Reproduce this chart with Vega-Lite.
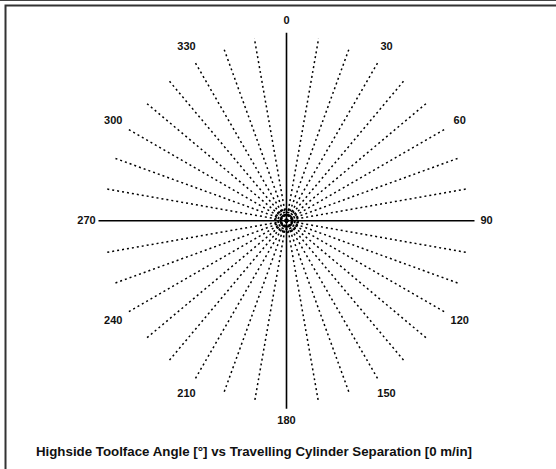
{
  "$schema": "https://vega.github.io/schema/vega-lite/v6.json",
  "width": 556,
  "height": 469,
  "padding": 0,
  "autosize": {"type": "none"},
  "background": "white",
  "view": {"stroke": null},
  "config": {"font": "Liberation Sans"},
  "datasets": {
    "spokes": [
      {"angle": 10, "x0": 0, "y0": 0, "x": 0.1709, "y": 0.9691}, {"angle": 20, "x0": 0, "y0": 0, "x": 0.3366, "y": 0.9247},
      {"angle": 30, "x0": 0, "y0": 0, "x": 0.4920, "y": 0.8522}, {"angle": 40, "x0": 0, "y0": 0, "x": 0.6325, "y": 0.7538},
      {"angle": 50, "x0": 0, "y0": 0, "x": 0.7538, "y": 0.6325}, {"angle": 60, "x0": 0, "y0": 0, "x": 0.8522, "y": 0.4920},
      {"angle": 70, "x0": 0, "y0": 0, "x": 0.9247, "y": 0.3366}, {"angle": 80, "x0": 0, "y0": 0, "x": 0.9691, "y": 0.1709},
      {"angle": 100, "x0": 0, "y0": 0, "x": 0.9691, "y": -0.1709}, {"angle": 110, "x0": 0, "y0": 0, "x": 0.9247, "y": -0.3366},
      {"angle": 120, "x0": 0, "y0": 0, "x": 0.8522, "y": -0.4920}, {"angle": 130, "x0": 0, "y0": 0, "x": 0.7538, "y": -0.6325},
      {"angle": 140, "x0": 0, "y0": 0, "x": 0.6325, "y": -0.7538}, {"angle": 150, "x0": 0, "y0": 0, "x": 0.4920, "y": -0.8522},
      {"angle": 160, "x0": 0, "y0": 0, "x": 0.3366, "y": -0.9247}, {"angle": 170, "x0": 0, "y0": 0, "x": 0.1709, "y": -0.9691},
      {"angle": 190, "x0": 0, "y0": 0, "x": -0.1709, "y": -0.9691}, {"angle": 200, "x0": 0, "y0": 0, "x": -0.3366, "y": -0.9247},
      {"angle": 210, "x0": 0, "y0": 0, "x": -0.4920, "y": -0.8522}, {"angle": 220, "x0": 0, "y0": 0, "x": -0.6325, "y": -0.7538},
      {"angle": 230, "x0": 0, "y0": 0, "x": -0.7538, "y": -0.6325}, {"angle": 240, "x0": 0, "y0": 0, "x": -0.8522, "y": -0.4920},
      {"angle": 250, "x0": 0, "y0": 0, "x": -0.9247, "y": -0.3366}, {"angle": 260, "x0": 0, "y0": 0, "x": -0.9691, "y": -0.1709},
      {"angle": 280, "x0": 0, "y0": 0, "x": -0.9691, "y": 0.1709}, {"angle": 290, "x0": 0, "y0": 0, "x": -0.9247, "y": 0.3366},
      {"angle": 300, "x0": 0, "y0": 0, "x": -0.8522, "y": 0.4920}, {"angle": 310, "x0": 0, "y0": 0, "x": -0.7538, "y": 0.6325},
      {"angle": 320, "x0": 0, "y0": 0, "x": -0.6325, "y": 0.7538}, {"angle": 330, "x0": 0, "y0": 0, "x": -0.4920, "y": 0.8522},
      {"angle": 340, "x0": 0, "y0": 0, "x": -0.3366, "y": 0.9247}, {"angle": 350, "x0": 0, "y0": 0, "x": -0.1709, "y": 0.9691}
    ],
    "axes": [
      {"x": -1, "y": 0, "x2": 1, "y2": 0},
      {"x": 0, "y": -1, "x2": 0, "y2": 1}
    ],
    "labels": [
      {"label": "0", "x": 0, "y": 1.064},
      {"label": "30", "x": 0.532, "y": 0.9214},
      {"label": "60", "x": 0.9214, "y": 0.532},
      {"label": "90", "x": 1.064, "y": 0},
      {"label": "120", "x": 0.9214, "y": -0.532},
      {"label": "150", "x": 0.532, "y": -0.9214},
      {"label": "180", "x": 0, "y": -1.064},
      {"label": "210", "x": -0.532, "y": -0.9214},
      {"label": "240", "x": -0.9214, "y": -0.532},
      {"label": "270", "x": -1.064, "y": 0},
      {"label": "300", "x": -0.9214, "y": 0.532},
      {"label": "330", "x": -0.532, "y": 0.9214}
    ],
    "rings": [
      {"x": 0, "y": 0, "r": 0.027}, {"x": 0, "y": 0, "r": 0.045}, {"x": 0, "y": 0, "r": 0.062}
    ],
    "title": [
      {"label": "Highside Toolface Angle [°] vs Travelling Cylinder Separation [0 m/in]", "x": -0.173, "y": -1.23}
    ],
    "frame": [
      {"x": -1.4946, "y": 1.1446, "x2": 1.6, "y2": -1.5}
    ],
    "topline": [
      {"x": -1.6, "y": 1.1712, "x2": 1.6, "y2": 1.1712}
    ]
  },
  "encoding": {
    "x": {"field": "x", "type": "quantitative", "scale": {"domain": [-1.5239, 1.4335], "nice": false, "zero": false}, "axis": null},
    "y": {"field": "y", "type": "quantitative", "scale": {"domain": [-1.3207, 1.1739], "nice": false, "zero": false}, "axis": null}
  },
  "layer": [
    {
      "data": {"name": "frame"},
      "mark": {"type": "rect", "fillOpacity": 0, "stroke": "#333333", "strokeWidth": 2, "clip": false},
      "encoding": {
        "x2": {"field": "x2"},
        "y2": {"field": "y2"}
      }
    },
    {
      "data": {"name": "topline"},
      "mark": {"type": "rule", "stroke": "#444444", "strokeWidth": 1},
      "encoding": {
        "x2": {"field": "x2"},
        "y2": {"field": "y2"}
      }
    },
    {
      "data": {"name": "spokes"},
      "mark": {"type": "rule", "stroke": "black", "strokeWidth": 1.5, "strokeDash": [2, 3]},
      "encoding": {
        "x": {"field": "x0", "type": "quantitative"},
        "y": {"field": "y0", "type": "quantitative"},
        "x2": {"field": "x"},
        "y2": {"field": "y"}
      }
    },
    {
      "data": {"name": "axes"},
      "mark": {"type": "rule", "stroke": "black", "strokeWidth": 1.6},
      "encoding": {
        "x2": {"field": "x2"},
        "y2": {"field": "y2"}
      }
    },
    {
      "data": {"name": "rings"},
      "mark": {"type": "point", "shape": "circle", "filled": false, "stroke": "black", "strokeWidth": 1.6, "strokeDash": [2.5, 1.5], "opacity": 1},
      "encoding": {
        "size": {"field": "r", "type": "quantitative", "scale": {"type": "pow", "exponent": 2, "domain": [0, 1], "range": [0, 141376]}, "legend": null}
      }
    },
    {
      "data": {"name": "labels"},
      "mark": {"type": "text", "fontSize": 11, "fontWeight": "bold", "color": "#111111", "align": "center", "baseline": "middle"},
      "encoding": {
        "text": {"field": "label"}
      }
    },
    {
      "data": {"name": "title"},
      "mark": {"type": "text", "fontSize": 13.3, "fontWeight": "bold", "color": "#111111", "align": "center", "baseline": "middle"},
      "encoding": {
        "text": {"field": "label"}
      }
    }
  ]
}
